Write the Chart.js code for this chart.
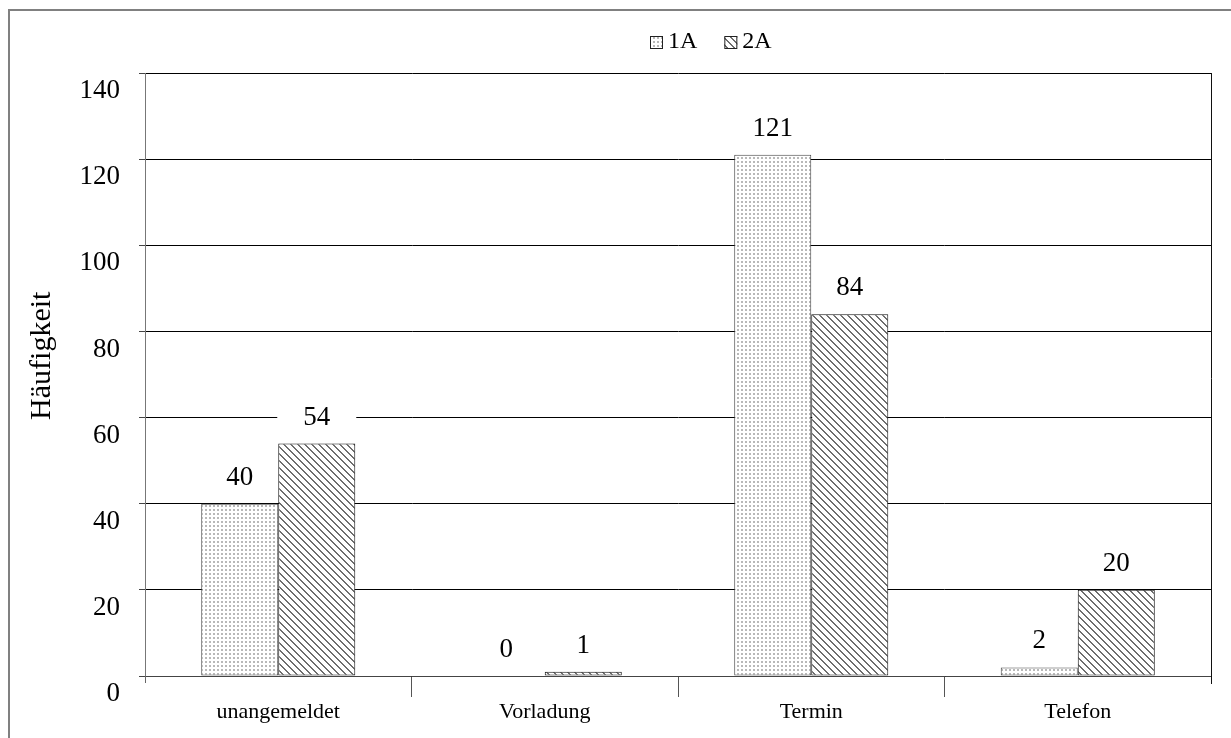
<!DOCTYPE html>
<html>
<head>
<meta charset="utf-8">
<script src="https://cdn.jsdelivr.net/npm/chart.js@4"></script>
<style>
  html, body { margin: 0; padding: 0; background: #fff; }
  #wrap { width: 1231px; height: 738px; position: relative; }
</style>
</head>
<body>
<div id="wrap"><canvas id="chart" width="1231" height="738"></canvas></div>
<script>
// Kontaktart je Gruppe
const categories = ['unangemeldet', 'Vorladung', 'Termin', 'Telefon'];
const seriesNames = ['1A', '2A'];
const values1A = [40, 0, 121, 2];
const values2A = [54, 1, 84, 20];
const yTicks = [0, 20, 40, 60, 80, 100, 120, 140];
const yTitle = 'Häufigkeit';

const SERIF = '"Liberation Serif", "Times New Roman", serif';
const LABEL_FONT = '27px ' + SERIF;
const LABEL_RISE = 27;

// light dotted fill
function dotPattern() {
  const c = document.createElement('canvas');
  c.width = 4; c.height = 4;
  const g = c.getContext('2d');
  g.fillStyle = '#ffffff'; g.fillRect(0, 0, 4, 4);
  g.fillStyle = '#b8b8b8'; g.fillRect(1, 1, 2, 2);
  return g.createPattern(c, 'repeat');
}
// gray diagonal hatch (top-left to bottom-right)
function hatchPattern() {
  const n = 7;
  const c = document.createElement('canvas');
  c.width = n; c.height = n;
  const g = c.getContext('2d');
  g.fillStyle = '#ffffff'; g.fillRect(0, 0, n, n);
  g.fillStyle = '#6e6e6e';
  for (let i = 0; i < n; i++) g.fillRect(i, i, 2, 1);
  g.fillRect(0, n - 1, 1, 1);
  return g.createPattern(c, 'repeat');
}

const fills = [dotPattern(), hatchPattern()];
const borders = ['#444444', '#111111'];

// outer frame, right plot edge and axis end stubs
const framePlugin = {
  id: 'frame',
  beforeDraw(chart) {
    const ctx = chart.ctx;
    ctx.save();
    ctx.fillStyle = '#fff';
    ctx.fillRect(0, 0, chart.width, chart.height);
    ctx.strokeStyle = '#808080';
    ctx.lineWidth = 2;
    ctx.beginPath();
    ctx.moveTo(9, chart.height + 5);
    ctx.lineTo(9, 10);
    ctx.lineTo(chart.width + 5, 10);
    ctx.stroke();
    ctx.restore();
  },
  afterDraw(chart) {
    const ctx = chart.ctx;
    const a = chart.chartArea;
    ctx.save();
    ctx.lineWidth = 1;
    ctx.strokeStyle = '#111';
    ctx.beginPath();
    ctx.moveTo(Math.round(a.right) + 0.5, a.top);
    ctx.lineTo(Math.round(a.right) + 0.5, a.bottom + 8);
    ctx.stroke();
    ctx.strokeStyle = '#666';
    ctx.beginPath();
    ctx.moveTo(Math.round(a.left) + 0.5, a.bottom);
    ctx.lineTo(Math.round(a.left) + 0.5, a.bottom + 7);
    ctx.stroke();
    ctx.restore();
  }
};

// value labels above bars; white box goes under the bars, text on top
const valueLabelPlugin = {
  id: 'valueLabels',
  beforeDatasetsDraw(chart) {
    const ctx = chart.ctx;
    ctx.save();
    ctx.font = LABEL_FONT;
    ctx.fillStyle = '#fff';
    chart.data.datasets.forEach((ds, di) => {
      chart.getDatasetMeta(di).data.forEach((bar, i) => {
        const w = ctx.measureText(String(ds.data[i])).width;
        const y = bar.y - LABEL_RISE;
        ctx.fillRect(bar.x - w / 2 - 26, y - 13, w + 52, 26);
      });
    });
    ctx.restore();
  },
  afterDatasetsDraw(chart) {
    const ctx = chart.ctx;
    ctx.save();
    ctx.font = LABEL_FONT;
    ctx.textAlign = 'center';
    ctx.textBaseline = 'middle';
    ctx.fillStyle = '#000';
    chart.data.datasets.forEach((ds, di) => {
      chart.getDatasetMeta(di).data.forEach((bar, i) => {
        ctx.fillText(String(ds.data[i]), bar.x, bar.y - LABEL_RISE + 1);
      });
    });
    ctx.restore();
  }
};

// legend row at the top
const legendPlugin = {
  id: 'patternLegend',
  afterDraw(chart) {
    const ctx = chart.ctx;
    ctx.save();
    ctx.font = '24px ' + SERIF;
    ctx.textBaseline = 'middle';
    ctx.textAlign = 'left';
    const box = 13, gapText = 5, gapItem = 27, cy = 42;
    const items = chart.data.datasets.map(d => ({ label: d.label, fill: d.backgroundColor, w: box + gapText + ctx.measureText(d.label).width }));
    const total = items.reduce((s, it) => s + it.w, 0) + gapItem * (items.length - 1);
    let x = Math.round(711 - total / 2);
    items.forEach(it => {
      ctx.fillStyle = it.fill;
      ctx.fillRect(x, cy - 6, box, box);
      ctx.strokeStyle = '#222';
      ctx.lineWidth = 1;
      ctx.strokeRect(x + 0.5, cy - 5.5, box - 1, box - 1);
      ctx.fillStyle = '#000';
      ctx.fillText(it.label, x + box + gapText, cy);
      x += it.w + gapItem;
    });
    ctx.restore();
  }
};

new Chart(document.getElementById('chart'), {
  type: 'bar',
  data: {
    labels: categories,
    datasets: [
      { label: seriesNames[0], data: values1A, backgroundColor: fills[0], borderColor: borders[0], borderWidth: 1, borderSkipped: false },
      { label: seriesNames[1], data: values2A, backgroundColor: fills[1], borderColor: borders[1], borderWidth: 1, borderSkipped: false }
    ]
  },
  options: {
    responsive: false,
    animation: false,
    devicePixelRatio: 1,
    categoryPercentage: 0.578,
    barPercentage: 1.0,
    layout: { padding: { top: 73, right: 20, left: 0, bottom: 0 } },
    plugins: {
      legend: { display: false },
      tooltip: { enabled: false }
    },
    scales: {
      x: {
        offset: true,
        grid: {
          offset: true,
          drawOnChartArea: false,
          tickLength: 21,
          tickColor: (c) => (c.type !== 'tick' || c.index === 0) ? 'rgba(0,0,0,0)' : '#555'
        },
        border: { color: '#444', width: 1 },
        ticks: { color: '#000', font: { family: SERIF, size: 22 }, padding: 2, maxRotation: 0 },
        afterFit(scale) { scale.height = 62; }
      },
      y: {
        min: 0,
        max: 140,
        afterBuildTicks(scale) { scale.ticks = yTicks.map(v => ({ value: v })); },
        grid: { color: '#000', lineWidth: 1, tickLength: 6, tickColor: '#444' },
        border: { color: '#777', width: 1 },
        ticks: { color: '#000', font: { family: SERIF, size: 27 }, padding: 19, labelOffset: 18 },
        title: {
          display: true,
          text: '     ' + yTitle,
          color: '#000',
          font: { family: SERIF, size: 30 },
          padding: { top: 24, bottom: 0 }
        },
        afterFit(scale) { scale.width = 145; }
      }
    }
  },
  plugins: [framePlugin, valueLabelPlugin, legendPlugin]
});
</script>
</body>
</html>
